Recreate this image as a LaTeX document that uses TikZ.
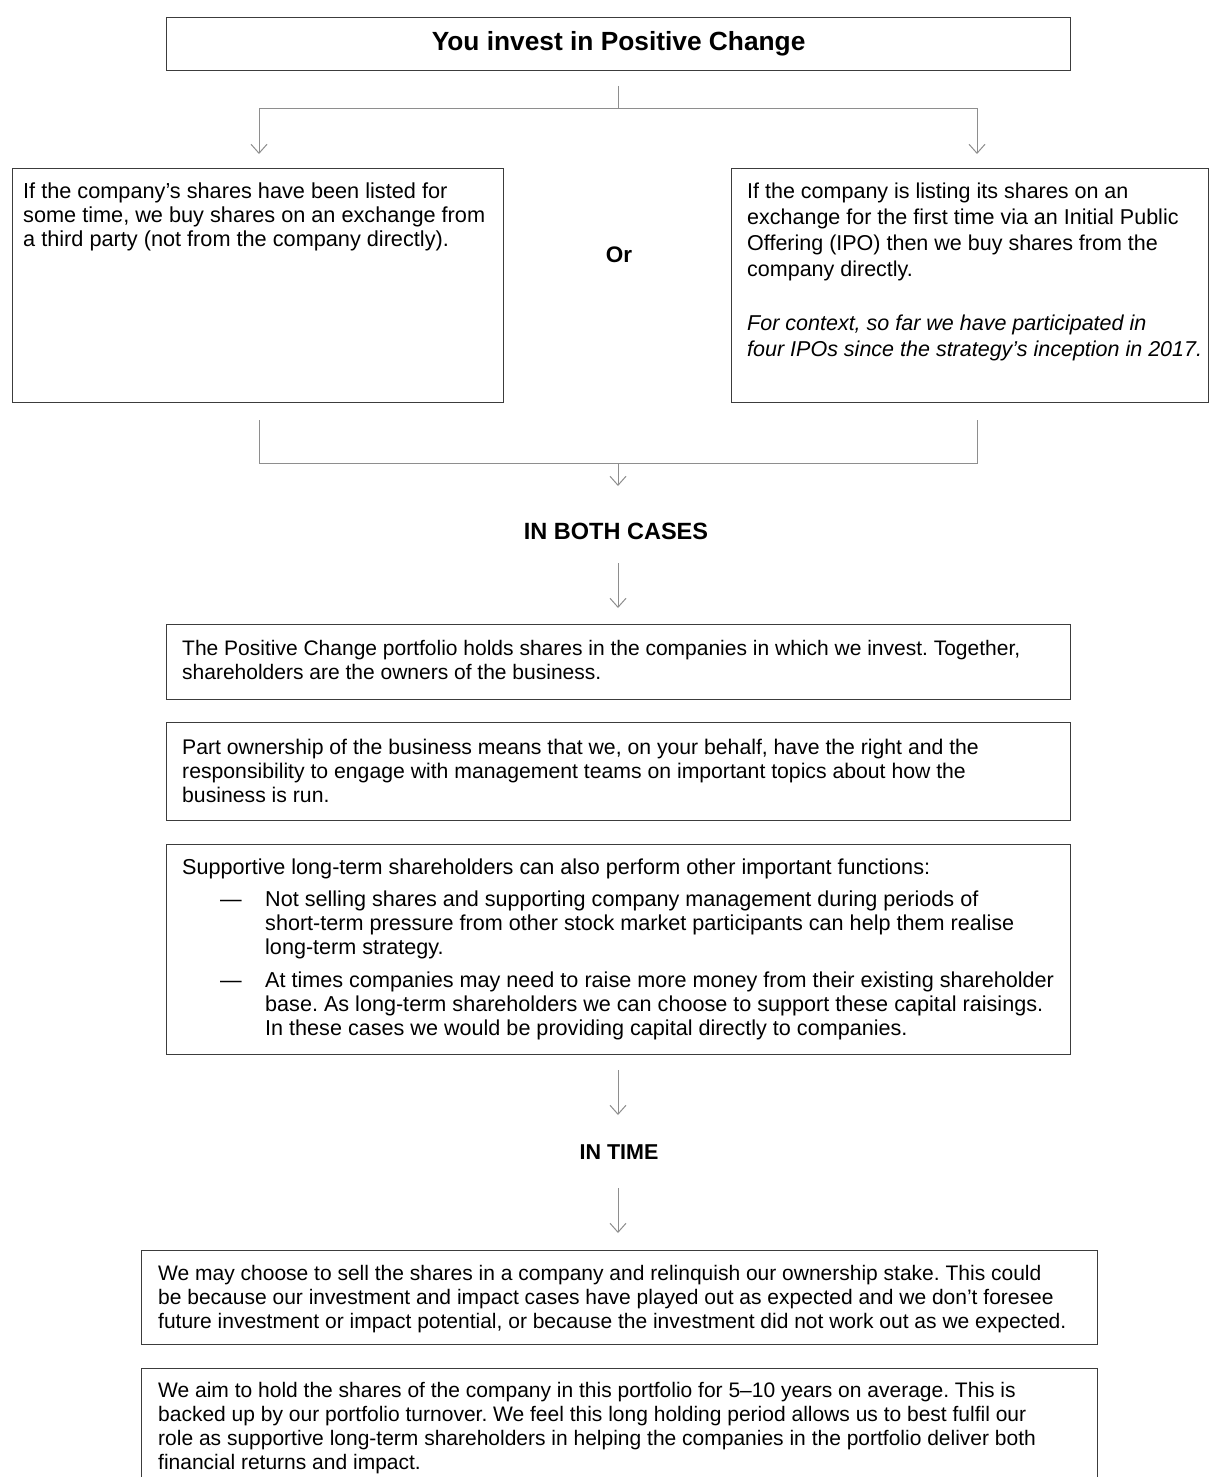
\documentclass[tikz,border=0pt]{standalone}
\usepackage{fontspec}
\setmainfont{Liberation Sans}
\usetikzlibrary{arrows.meta,calc}
\definecolor{boxc}{HTML}{3C3C3C}
\definecolor{linec}{HTML}{8E8E8E}
\newcommand{\bodyf}{\fontsize{21}{24}\selectfont\frenchspacing}
\newcommand{\rowf}{\fontsize{21.7}{24}\selectfont\frenchspacing}
\newcommand{\rowrf}{\fontsize{21.5}{26.3}\selectfont\frenchspacing}
\newcommand{\bulf}{\fontsize{21.6}{24}\selectfont\frenchspacing}
\newcommand{\headf}{\fontsize{23.5}{26}\selectfont\bfseries}
\begin{document}
\begin{tikzpicture}[x=1pt,y=-1pt,
  boxst/.style={draw=boxc, line width=1.2pt, inner sep=0pt, anchor=north west, align=center},
  txt/.style={anchor=base west, inner sep=0pt, font=\bodyf},
  head/.style={inner sep=0pt, anchor=base, font=\headf},
  conn/.style={draw=linec, line width=1pt},
  arr/.style={conn, -{Straight Barb[length=9pt,width=16pt,line width=1pt]}}]
\useasboundingbox (0,0) rectangle (1209,1477);
\clip (0,0) rectangle (1209,1477);
\fill[white] (0,0) rectangle (1209,1477);

% top box
\node[boxst, minimum width=904pt, minimum height=53pt, font=\fontsize{26.3}{30}\selectfont\bfseries] (top) at (166,17) {You invest in Positive Change};

% second row boxes
\node[boxst, minimum width=491pt, minimum height=234pt] (lbox) at (12,168) {};
\node[boxst, minimum width=477pt, minimum height=234pt] (rbox) at (731,168) {};
\node[txt] (ltxt) at (23,198) {\parbox[t]{475pt}{\rowf If the company’s shares have been listed for\\
some time, we buy shares on an exchange from\\
a third party (not from the company directly).}};
\node[txt] (rtxt) at (747,198) {\parbox[t]{470pt}{\rowrf If the company is listing its shares on an\\
exchange for the first time via an Initial Public\\
Offering (IPO) then we buy shares from the\\
company directly.\\[27pt]
\itshape For context, so far we have participated in\\
four IPOs since the strategy’s inception in 2017.}};
\node[head, font=\fontsize{22.5}{26}\selectfont\bfseries] (or) at (619,262) {Or};

% connectors top
\coordinate (t0) at (618,86);
\coordinate (hb) at (618,109);
\coordinate (la) at (259,154);
\coordinate (ra) at (977,154);
\draw[conn] (t0) -- (hb);
\draw[arr] (hb) -| (la);
\draw[arr] (hb) -| (ra);

% connectors bottom
\coordinate (lb) at (259,420);
\coordinate (rb) at (977,420);
\coordinate (mb) at (618,463);
\coordinate (mt) at (618,486);
\draw[conn] (lb) |- (mb);
\draw[conn] (rb) |- (mb);
\draw[arr] (mb) -- (mt);

\node[head] (both) at (616,539) {IN BOTH CASES};
\coordinate (a1s) at (618,563);
\coordinate (a1e) at (618,608);
\draw[arr] (a1s) -- (a1e);

% middle boxes
\node[boxst, minimum width=904pt, minimum height=75pt] (bA) at (166,624) {};
\node[txt] (tA) at (182,655) {\parbox[t]{880pt}{\bodyf The Positive Change portfolio holds shares in the companies in which we invest. Together,\\
shareholders are the owners of the business.}};

\node[boxst, minimum width=904pt, minimum height=98pt] (bB) at (166,722) {};
\node[txt] (tB) at (182,754) {\parbox[t]{880pt}{\fontsize{21.2}{24}\selectfont\frenchspacing Part ownership of the business means that we, on your behalf, have the right and the\\
responsibility to engage with management teams on important topics about how the\\
business is run.}};

\node[boxst, minimum width=904pt, minimum height=210pt] (bC) at (166,844) {};
\node[txt] (tC) at (182,874) {\parbox[t]{880pt}{\bulf Supportive long-term shareholders can also perform other important functions:\\[8pt]
\makebox[83pt][l]{\hspace*{38pt}—}Not selling shares and supporting company management during periods of\\
\hspace*{83pt}short-term pressure from other stock market participants can help them realise\\
\hspace*{83pt}long-term strategy.\\[9pt]
\makebox[83pt][l]{\hspace*{38pt}—}At times companies may need to raise more money from their existing shareholder\\
\hspace*{83pt}base. As long-term shareholders we can choose to support these capital raisings.\\
\hspace*{83pt}In these cases we would be providing capital directly to companies.}};

\coordinate (a2s) at (618,1070);
\coordinate (a2e) at (618,1115);
\draw[arr] (a2s) -- (a2e);
\node[head, font=\fontsize{21.5}{26}\selectfont\bfseries] (intime) at (619,1159) {IN TIME};
\coordinate (a3s) at (618,1188);
\coordinate (a3e) at (618,1233);
\draw[arr] (a3s) -- (a3e);

% bottom boxes
\node[boxst, minimum width=956pt, minimum height=94pt] (bD) at (141,1250) {};
\node[txt] (tD) at (158,1280) {\parbox[t]{930pt}{\bodyf We may choose to sell the shares in a company and relinquish our ownership stake. This could\\
be because our investment and impact cases have played out as expected and we don’t foresee\\
future investment or impact potential, or because the investment did not work out as we expected.}};

\node[boxst, minimum width=956pt, minimum height=140pt] (bE) at (141,1368) {};
\node[txt] (tE) at (158,1397) {\parbox[t]{930pt}{\bodyf We aim to hold the shares of the company in this portfolio for 5–10 years on average. This is\\
backed up by our portfolio turnover. We feel this long holding period allows us to best fulfil our\\
role as supportive long-term shareholders in helping the companies in the portfolio deliver both\\
financial returns and impact.}};
\end{tikzpicture}
\end{document}
